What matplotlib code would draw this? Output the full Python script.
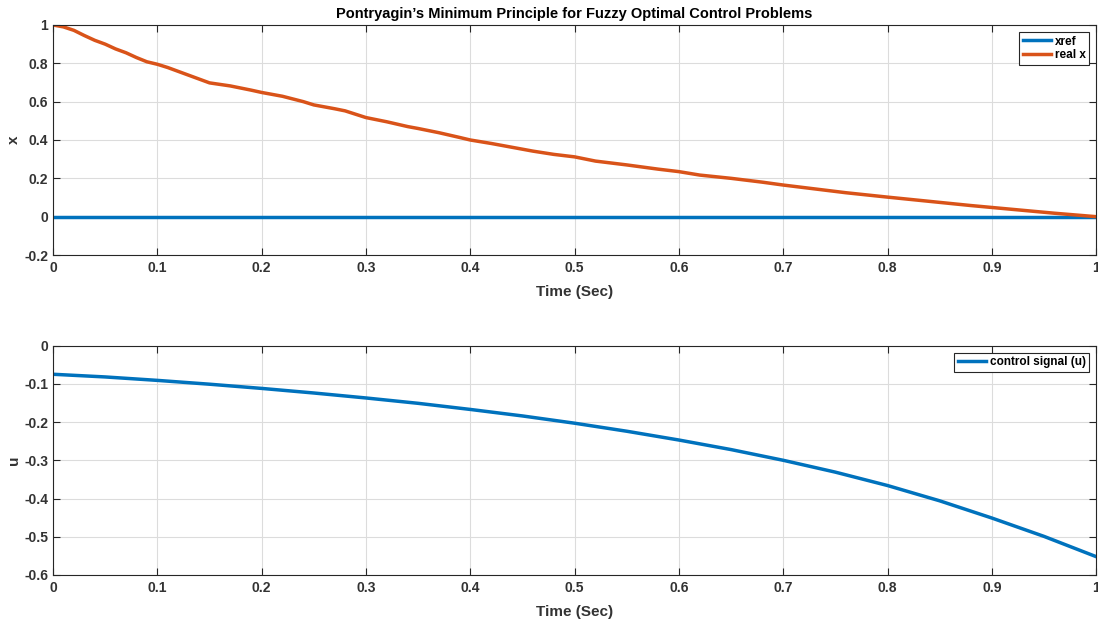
import numpy as np
import matplotlib
matplotlib.use("Agg")
import matplotlib.pyplot as plt

plt.rcParams.update({
    "font.family": ["Liberation Sans", "DejaVu Sans"],
    "font.weight": "bold",
    "axes.labelweight": "bold",
    "axes.titleweight": "bold",
})

# state trajectory
t_x = [0.0, 0.01, 0.02, 0.03, 0.04, 0.05, 0.06, 0.07, 0.08, 0.09, 0.10,
       0.11, 0.12, 0.13, 0.14, 0.15, 0.17, 0.19, 0.20, 0.22, 0.24, 0.25,
       0.27, 0.28, 0.30, 0.32, 0.34, 0.35, 0.37, 0.39, 0.40, 0.42, 0.44,
       0.46, 0.48, 0.50, 0.52, 0.55, 0.58, 0.60, 0.62, 0.65, 0.68, 0.70,
       0.73, 0.76, 0.80, 0.84, 0.88, 0.90, 0.93, 0.96, 1.0]
real_x = [1.0, 0.99, 0.972, 0.945, 0.92, 0.9, 0.875, 0.855, 0.83, 0.808, 0.795,
          0.778, 0.758, 0.738, 0.718, 0.698, 0.682, 0.66, 0.648, 0.628, 0.6, 0.583,
          0.563, 0.552, 0.517, 0.495, 0.47, 0.46, 0.438, 0.413, 0.4, 0.382, 0.362,
          0.342, 0.325, 0.312, 0.29, 0.27, 0.248, 0.235, 0.217, 0.2, 0.18, 0.165,
          0.145, 0.125, 0.102, 0.08, 0.058, 0.048, 0.033, 0.018, 0.0]
t_ref = [0.0, 1.0]
xref = [0.0, 0.0]

# control signal
t_u = [0.0, 0.05, 0.1, 0.15, 0.2, 0.25, 0.3, 0.35, 0.4, 0.45, 0.5,
       0.55, 0.6, 0.65, 0.7, 0.75, 0.8, 0.85, 0.9, 0.95, 1.0]
u = [-0.075, -0.082, -0.091, -0.101, -0.112, -0.124, -0.137, -0.151, -0.167,
     -0.184, -0.203, -0.224, -0.247, -0.272, -0.300, -0.331, -0.366, -0.406,
     -0.451, -0.499, -0.552]

BLUE = "#0072BD"
ORANGE = "#D95319"
AXC = "#262626"
TXT = "#333333"

fig = plt.figure(figsize=(10.98, 6.2), dpi=100)
ax1 = fig.add_axes([0.0483, 0.5887, 0.950, 0.371])
ax2 = fig.add_axes([0.0483, 0.0726, 0.950, 0.370])


def style(ax):
    ax.grid(True, color="#dcdcdc", linewidth=0.8)
    ax.set_axisbelow(True)
    ax.tick_params(direction="in", top=True, right=True, colors=AXC,
                   labelcolor=TXT, labelsize=10, length=5, width=0.8,
                   pad=4.5)
    ax.tick_params(axis="y", pad=3.5)
    for s in ax.spines.values():
        s.set_color(AXC)
        s.set_linewidth(0.8)
    ax.set_xlim(0, 1)
    ax.set_xticks(np.arange(0, 1.01, 0.1))
    ax.set_xticklabels(["0", "0.1", "0.2", "0.3", "0.4", "0.5", "0.6",
                        "0.7", "0.8", "0.9", "1"])
    ax.set_xlabel("Time (Sec)", fontsize=11, color=TXT, labelpad=7)


def legend(ax):
    leg = ax.legend(loc="upper right", fontsize=8.5, frameon=True,
                    fancybox=False, borderpad=0.3, handlelength=2.4,
                    handletextpad=0.3, labelspacing=0.15, borderaxespad=0.6,
                    framealpha=1)
    leg.get_frame().set_edgecolor(AXC)
    leg.get_frame().set_linewidth(0.8)
    for t in leg.get_texts():
        t.set_color("black")


ax1.plot(t_ref, xref, color=BLUE, lw=2.5, label="xref")
ax1.plot(t_x, real_x, color=ORANGE, lw=2.5, label="real x")
style(ax1)
ax1.set_ylim(-0.2, 1)
ax1.set_yticks([-0.2, 0, 0.2, 0.4, 0.6, 0.8, 1])
ax1.set_yticklabels(["-0.2", "0", "0.2", "0.4", "0.6", "0.8", "1"])
ax1.set_ylabel("x", fontsize=11, color=TXT)
ax1.yaxis.set_label_coords(-0.031, 0.5)
ax1.set_title("Pontryagin\u2019s Minimum Principle for Fuzzy Optimal Control Problems",
              fontsize=10.5, color="black", pad=5)
legend(ax1)

ax2.plot(t_u, u, color=BLUE, lw=2.5, label="control signal (u)")
style(ax2)
ax2.set_ylim(-0.6, 0)
ax2.set_yticks([-0.6, -0.5, -0.4, -0.3, -0.2, -0.1, 0])
ax2.set_yticklabels(["-0.6", "-0.5", "-0.4", "-0.3", "-0.2", "-0.1", "0"])
ax2.set_ylabel("u", fontsize=11, color=TXT)
ax2.yaxis.set_label_coords(-0.031, 0.5)
legend(ax2)

fig.savefig("out.png", dpi=100)
